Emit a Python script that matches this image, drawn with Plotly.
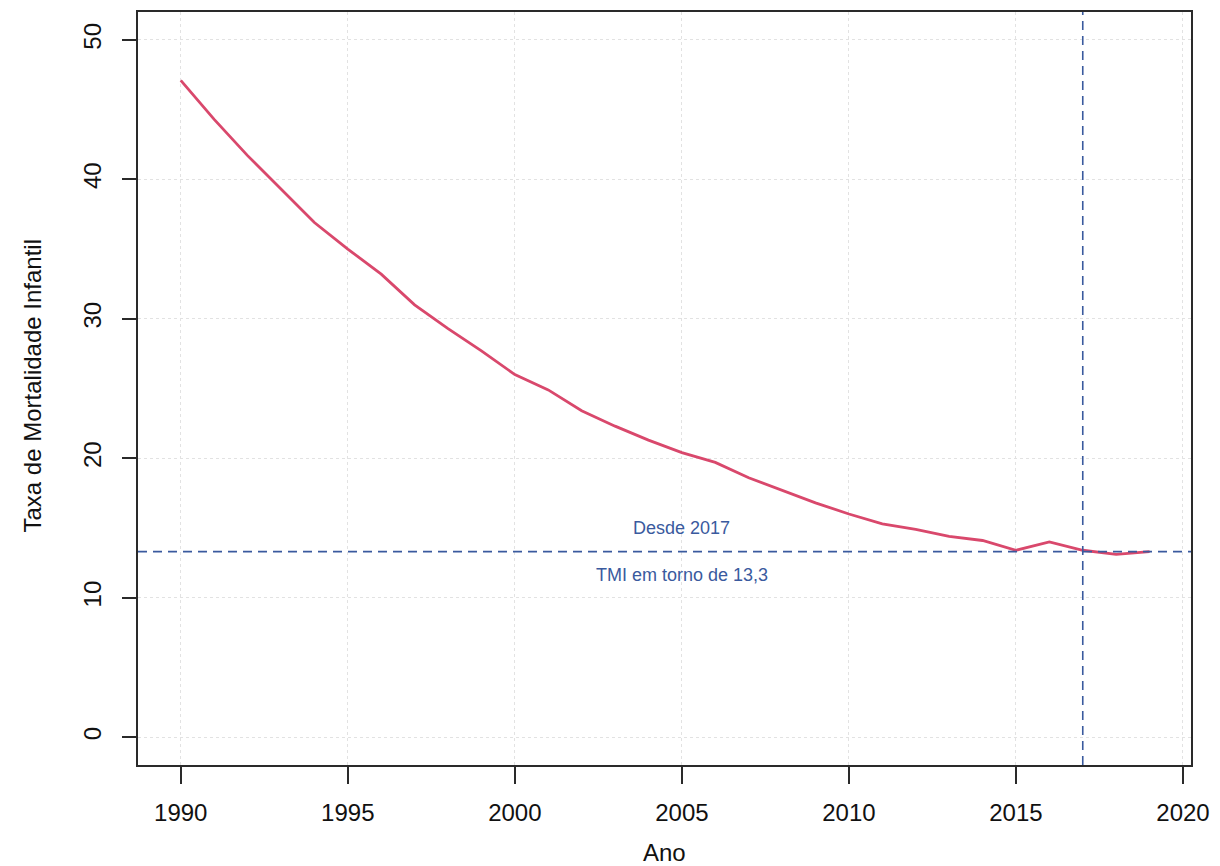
import plotly.graph_objects as go

anos = list(range(1990, 2020))
tmi = [47.1, 44.3, 41.7, 39.3, 36.9, 35.0, 33.2, 31.0, 29.3, 27.7,
       26.0, 24.9, 23.4, 22.3, 21.3, 20.4, 19.7, 18.6, 17.7, 16.8,
       16.0, 15.3, 14.9, 14.4, 14.1, 13.4, 14.0, 13.4, 13.1, 13.3]

x_ticks = [1990, 1995, 2000, 2005, 2010, 2015, 2020]
y_ticks = [0, 10, 20, 30, 40, 50]
ano_ref = 2017
tmi_ref = 13.3
label_x = 2005
label_top_y = 15.0
label_bot_y = 11.65
label_top = "Desde 2017"
label_bot = "TMI em torno de 13,3"

red = "#d9486c"
blue = "#3a5a9e"
font = "Liberation Sans, Arial, Helvetica, sans-serif"

fig = go.Figure()
fig.add_trace(go.Scatter(x=anos, y=tmi, mode="lines",
                         line=dict(color=red, width=2.8), showlegend=False,
                         hoverinfo="x+y"))

fig.add_shape(type="line", xref="x", yref="paper", x0=ano_ref, x1=ano_ref, y0=0, y1=1,
              line=dict(color=blue, width=1.6, dash="9px,6px"))
fig.add_shape(type="line", xref="paper", yref="y", x0=0, x1=1, y0=tmi_ref, y1=tmi_ref,
              line=dict(color=blue, width=1.6, dash="9px,6px"))

fig.add_annotation(x=label_x, y=label_top_y, text=label_top, showarrow=False,
                   font=dict(family=font, size=18, color=blue), xanchor="center", yanchor="middle")
fig.add_annotation(x=label_x, y=label_bot_y, text=label_bot, showarrow=False,
                   font=dict(family=font, size=18, color=blue), xanchor="center", yanchor="middle")

# axis titles
fig.add_annotation(xref="paper", yref="paper", x=0.5, y=(765 - 853) / 755, text="Ano",
                   showarrow=False, font=dict(family=font, size=24, color="#111"),
                   xanchor="center", yanchor="middle")
fig.add_annotation(xref="paper", yref="paper", x=(32 - 138) / 1058, y=(765 - 385) / 755,
                   text="Taxa de Mortalidade Infantil", textangle=-90,
                   showarrow=False, font=dict(family=font, size=24, color="#111"),
                   xanchor="center", yanchor="middle")

fig.update_layout(
    width=1220, height=866,
    margin=dict(l=138, r=24, t=10, b=101),
    paper_bgcolor="white", plot_bgcolor="white",
    font=dict(family=font, size=24, color="#111"),
    showlegend=False,
)
fig.update_xaxes(range=[1988.72, 2020.24], tickvals=x_ticks, ticktext=[str(v) for v in x_ticks],
                 showline=True, mirror=True, linecolor="#2a2a2a", linewidth=2,
                 ticks="outside", ticklen=17, tickwidth=1.5, tickcolor="#2a2a2a",
                 showgrid=True, gridcolor="#e2e2e2", griddash="dot", gridwidth=1,
                 zeroline=False, tickfont=dict(size=24, color="#111"), ticklabelstandoff=8)
fig.update_yaxes(range=[-2, 52], tickvals=y_ticks, ticktext=[str(v) for v in y_ticks],
                 tickangle=-90,
                 showline=True, mirror=True, linecolor="#2a2a2a", linewidth=2,
                 ticks="outside", ticklen=14, tickwidth=1.5, tickcolor="#2a2a2a",
                 showgrid=True, gridcolor="#e2e2e2", griddash="dot", gridwidth=1,
                 zeroline=False, tickfont=dict(size=24, color="#111"), ticklabelstandoff=11)

fig.write_html("out.html", config={"displayModeBar": False},
               post_script="document.body.style.margin='0';document.body.style.overflow='hidden';")
